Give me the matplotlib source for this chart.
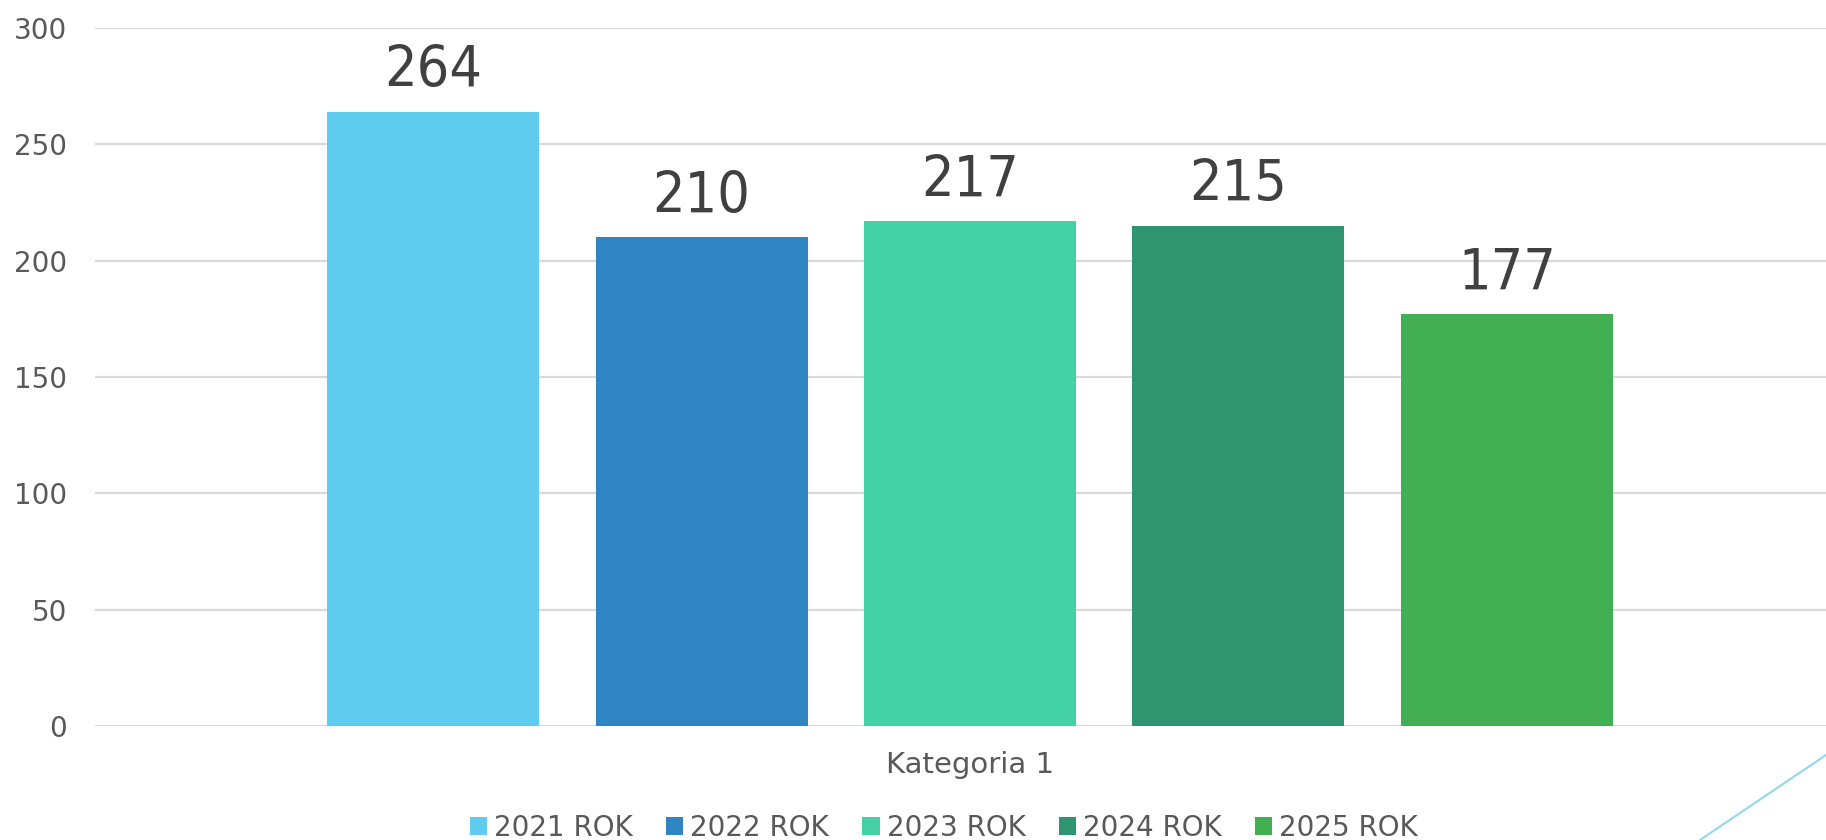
import matplotlib
matplotlib.use("Agg")
import matplotlib.pyplot as plt
from matplotlib.patches import Patch
from matplotlib.lines import Line2D
from matplotlib import font_manager

# data
category = "Kategoria 1"
series = ["2021 ROK", "2022 ROK", "2023 ROK", "2024 ROK", "2025 ROK"]
values = [264, 210, 217, 215, 177]
colors = ["#5FCBEF", "#2F84C4", "#44D1A3", "#2E9570", "#43AF53"]
yticks = [0, 50, 100, 150, 200, 250, 300]

plt.rcParams["font.family"] = ["DejaVu Sans"]
# narrow digits for the value labels if a condensed face is installed
has_condensed = any(f.name == "DejaVu Sans" and "Condensed" in f.fname
                    for f in font_manager.fontManager.ttflist)
label_size = 41 if has_condensed else 36

W, H = 1826, 840
fig = plt.figure(figsize=(W / 100, H / 100), dpi=100)
ax = fig.add_axes([95 / W, (H - 726) / H, 1750 / W, 698 / H])

step = 0.1534
width = 0.1211
n = len(values)
xs = [(i - (n - 1) / 2) * step for i in range(n)]

for y in yticks:
    ax.axhline(y, color="#D9D9D9", lw=1.6, zorder=0)

ax.bar(xs, values, width=width, color=colors, zorder=2)
for x, v in zip(xs, values):
    ax.annotate(str(v), (x, v), xytext=(0, 9), textcoords="offset points",
                ha="center", va="bottom", fontsize=label_size, color="#404040",
                fontstretch="condensed")

ax.set_xlim(-0.5, 0.5)
ax.set_ylim(0, 300)
ax.set_yticks(yticks)
ax.set_yticklabels([str(t) for t in yticks], fontsize=20, color="#595959")
ax.tick_params(axis="y", length=0, pad=20)
ax.set_xticks([])
for s in ax.spines.values():
    s.set_visible(False)

fig.text(970 / W, 1 - 765 / H, category, ha="center", va="center",
         fontsize=21, color="#595959")

handles = [Patch(facecolor=c, edgecolor="none") for c in colors]
fig.legend(handles, series, loc="center", bbox_to_anchor=(944 / W, 1 - 828 / H),
           ncol=5, frameon=False, fontsize=20, labelcolor="#595959",
           handlelength=0.62, handleheight=0.62, handletextpad=0.25,
           columnspacing=1.2, borderpad=0)

fig.add_artist(Line2D([1700 / W, 1.0], [0.0, 85 / H], color="#8FD8F0", lw=1.5))

fig.savefig("out.png", dpi=100)
